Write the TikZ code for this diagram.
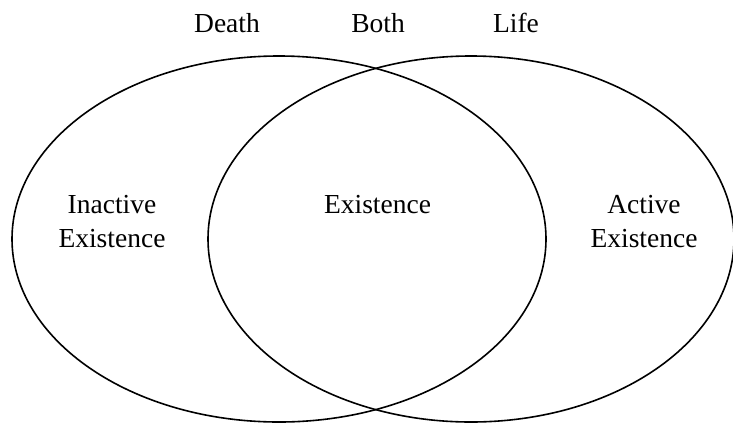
\documentclass[tikz,border=0pt]{standalone}
\usepackage{fontspec}
\setmainfont{Liberation Serif}
\usepackage{tikz}
\usetikzlibrary{positioning}

\begin{document}
\begin{tikzpicture}[
        x=1pt, y=-1pt,
        ring/.style={line width=1.6pt, black},
        lbl/.style={align=center, font=\fontsize{27.5}{34}\selectfont, inner sep=0pt, anchor=base}
      ]
      \useasboundingbox (0,0) rectangle (733,426);
      \clip (0,0) rectangle (733,426);
      \draw[ring] (279,239) ellipse [x radius=267, y radius=183];
      \draw[ring] (471,239) ellipse [x radius=263, y radius=183];

      \node[lbl] (death) at (227,32) {Death};
      \node[lbl] (both)  at (378,32) {Both};
      \node[lbl] (life)  at (516,32) {Life};

      \node[lbl] (inactive)  at (112,213) {Inactive};
      \node[lbl] (inactivex) at (112,247) {Existence};
      \node[lbl] (exist)     at (377.5,213) {Existence};
      \node[lbl] (active)    at (644,213) {Active};
      \node[lbl] (activex)   at (644,247) {Existence};
    \end{tikzpicture}
\end{document}
